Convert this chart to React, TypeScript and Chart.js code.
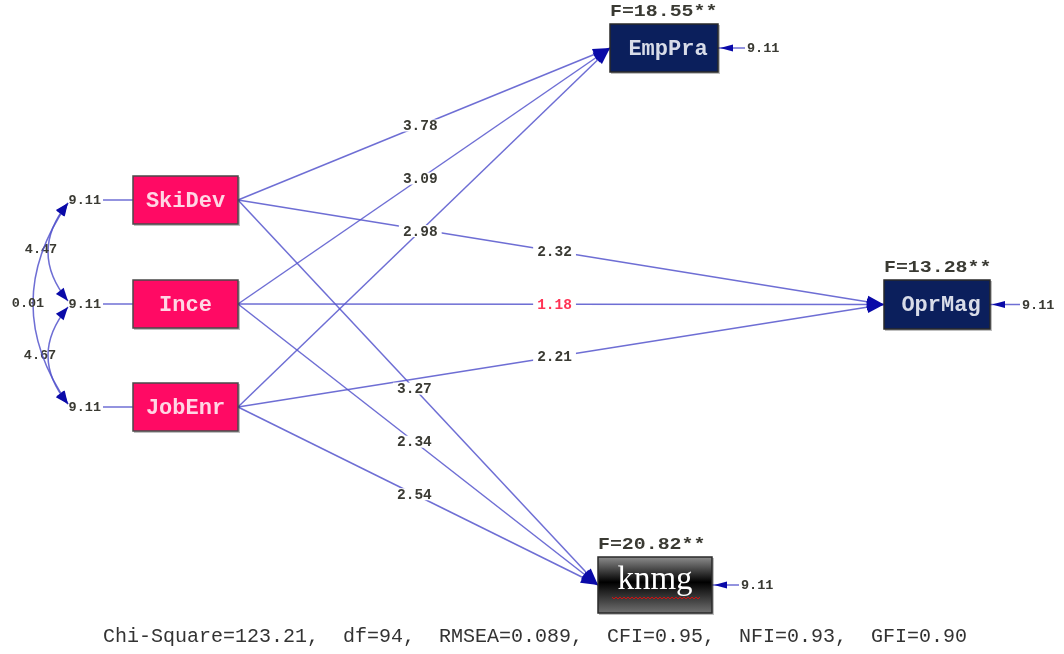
import React, { useEffect, useRef } from "react";
import { Chart, registerables } from "chart.js";
Chart.register(...registerables);

// ---------------- DATA ----------------
const exogenous = ["SkiDev", "Ince", "JobEnr"];
const endogenous = ["EmpPra", "OprMag", "knmg"];
const fValues = ["F=18.55**", "F=13.28**", "F=20.82**"];
const exoVariances = ["9.11", "9.11", "9.11"];
const errorVariances = ["9.11", "9.11", "9.11"];
const pathFrom = [0, 0, 0, 1, 1, 1, 2, 2, 2];
const pathTo = [0, 1, 2, 0, 1, 2, 0, 1, 2];
const pathCoefs = ["3.78", "2.32", "3.27", "3.09", "1.18", "2.34", "2.98", "2.21", "2.54"];
const pathSignificant = [true, true, true, true, false, true, true, true, true];
const covFrom = [0, 1, 0];
const covTo = [1, 2, 2];
const covValues = ["4.47", "4.67", "0.01"];
const fitStats = "Chi-Square=123.21,  df=94,  RMSEA=0.089,  CFI=0.95,  NFI=0.93,  GFI=0.90";

// ---------------- LAYOUT ----------------
const W = 1064;
const H = 654;
const exoX0 = 133;
const exoX1 = 238;
const exoHalfH = 24;
const exoCy = [200, 304, 407];
const endoBox = [
  { x0: 610, x1: 718, y0: 24, y1: 72 },
  { x0: 884, x1: 990, y0: 280, y1: 329 },
  { x0: 598, x1: 712, y0: 557, y1: 613 },
];
const errLen = [27, 30, 27];
const labelT = 0.49;
const covCtrlX = [28, 28, -2];
const covLabelPos = [
  { x: 41, y: 250 },
  { x: 40, y: 356 },
  { x: 28, y: 304 },
];

const LINE = "rgba(85,85,205,0.85)";
const HEAD = "#0a0aa8";
const TXT = "#3a3a33";
const MONO = "'Liberation Mono', 'Courier New', monospace";

const endoCy = (j: number) => (endoBox[j].y0 + endoBox[j].y1) / 2;

export default function App() {
  const ref = useRef<HTMLCanvasElement | null>(null);

  useEffect(() => {
    document.body.style.margin = "0";
    const canvas = ref.current;
    if (!canvas) return;

    const datasets = pathFrom.map((f, i) => ({
      label: exogenous[f] + "->" + endogenous[pathTo[i]],
      data: [
        { x: exoX1, y: exoCy[f] },
        { x: endoBox[pathTo[i]].x0, y: endoCy(pathTo[i]) },
      ],
      showLine: true,
      borderColor: LINE,
      borderWidth: 1.5,
      pointRadius: 0,
      fill: false,
    }));

    const diagram = {
      id: "diagram",
      afterDatasetsDraw(chart: any) {
        const ctx: CanvasRenderingContext2D = chart.ctx;
        const xs = chart.scales.x;
        const ys = chart.scales.y;
        const px = (v: number) => xs.getPixelForValue(v);
        const py = (v: number) => ys.getPixelForValue(v);

        const head = (tx: number, ty: number, fx: number, fy: number, L: number, hw: number) => {
          const dx = tx - fx, dy = ty - fy;
          const d = Math.hypot(dx, dy) || 1;
          const ux = dx / d, uy = dy / d;
          const bx = tx - ux * L, by = ty - uy * L;
          ctx.beginPath();
          ctx.moveTo(tx, ty);
          ctx.lineTo(bx - uy * hw, by + ux * hw);
          ctx.lineTo(bx + uy * hw, by - ux * hw);
          ctx.closePath();
          ctx.fillStyle = HEAD;
          ctx.fill();
        };
        const text = (s: string, x: number, y: number, font: string, color: string, align: CanvasTextAlign, sx = 1) => {
          ctx.save();
          ctx.font = font;
          ctx.fillStyle = color;
          ctx.textAlign = align;
          ctx.textBaseline = "middle";
          ctx.translate(x, y);
          ctx.scale(sx, 1);
          ctx.fillText(s, 0, 0);
          ctx.restore();
        };

        ctx.save();
        // path arrowheads and coefficient labels
        pathFrom.forEach((f, i) => {
          const j = pathTo[i];
          const x0 = px(exoX1), y0 = py(exoCy[f]);
          const x1 = px(endoBox[j].x0), y1 = py(endoCy(j));
          head(x1, y1, x0, y0, 17, 6);
        });
        pathFrom.forEach((f, i) => {
          const j = pathTo[i];
          const x0 = px(exoX1), y0 = py(exoCy[f]);
          const x1 = px(endoBox[j].x0), y1 = py(endoCy(j));
          const lx = x0 + (x1 - x0) * labelT;
          const ly = y0 + (y1 - y0) * labelT;
          ctx.font = "bold 14.5px " + MONO;
          const tw = ctx.measureText(pathCoefs[i]).width;
          ctx.fillStyle = "#ffffff";
          ctx.fillRect(lx - tw / 2 - 4, ly - 6, tw + 8, 12);
          text(pathCoefs[i], lx, ly + 1, "bold 14.5px " + MONO, pathSignificant[i] ? TXT : "#ff3355", "center");
        });

        // exogenous variance lines
        exogenous.forEach((_, k) => {
          const y = py(exoCy[k]);
          ctx.strokeStyle = LINE;
          ctx.lineWidth = 1.5;
          ctx.beginPath();
          ctx.moveTo(px(103), y);
          ctx.lineTo(px(exoX0), y);
          ctx.stroke();
          text(exoVariances[k], px(101), y + 1, "bold 13.5px " + MONO, TXT, "right");
        });

        // covariance arcs
        covFrom.forEach((a, k) => {
          const b = covTo[k];
          const sx = px(68), sy = py(exoCy[a] + 3);
          const ex = px(68), ey = py(exoCy[b] - 3);
          const cx = px(covCtrlX[k]), cy = (sy + ey) / 2;
          ctx.strokeStyle = LINE;
          ctx.lineWidth = 1.5;
          ctx.beginPath();
          ctx.moveTo(sx, sy);
          ctx.quadraticCurveTo(cx, cy, ex, ey);
          ctx.stroke();
          head(sx, sy, cx, cy, 13, 5);
          head(ex, ey, cx, cy, 13, 5);
          text(covValues[k], px(covLabelPos[k].x), py(covLabelPos[k].y), "bold 13.5px " + MONO, TXT, "center");
        });

        // exogenous boxes
        exogenous.forEach((name, k) => {
          const x0 = px(exoX0), x1 = px(exoX1);
          const y0 = py(exoCy[k] - exoHalfH), y1 = py(exoCy[k] + exoHalfH);
          ctx.fillStyle = "rgba(0,0,0,0.25)";
          ctx.fillRect(x0 + 1, y0 + 1, x1 - x0 + 1, y1 - y0 + 1);
          ctx.fillStyle = "#ff0a64";
          ctx.fillRect(x0, y0, x1 - x0, y1 - y0);
          ctx.strokeStyle = "#4a4a4a";
          ctx.lineWidth = 1.5;
          ctx.strokeRect(x0, y0, x1 - x0, y1 - y0);
          text(name, (x0 + x1) / 2, (y0 + y1) / 2 + 1, "bold 22px " + MONO, "#ffd6e4", "center");
        });

        // endogenous boxes
        endogenous.forEach((name, j) => {
          const b = endoBox[j];
          const x0 = px(b.x0), x1 = px(b.x1), y0 = py(b.y0), y1 = py(b.y1);
          const cyy = (y0 + y1) / 2;
          // error arrow
          ctx.strokeStyle = LINE;
          ctx.lineWidth = 1.5;
          ctx.beginPath();
          ctx.moveTo(x1, cyy);
          ctx.lineTo(x1 + errLen[j], cyy);
          ctx.stroke();
          head(x1 + 2, cyy, x1 + errLen[j], cyy, 13, 3.5);
          text(errorVariances[j], x1 + errLen[j] + 2, cyy + 1, "bold 13.5px " + MONO, TXT, "left");

          ctx.fillStyle = "rgba(0,0,0,0.25)";
          ctx.fillRect(x0 + 1, y0 + 1, x1 - x0 + 1, y1 - y0 + 1);
          if (j === 2) {
            const g = ctx.createLinearGradient(0, y0, 0, y1);
            g.addColorStop(0, "#8c8c8c");
            g.addColorStop(0.45, "#000000");
            g.addColorStop(1, "#707070");
            ctx.fillStyle = g;
          } else {
            ctx.fillStyle = "#0b1f5c";
          }
          ctx.fillRect(x0, y0, x1 - x0, y1 - y0);
          ctx.strokeStyle = "#2a2a2a";
          ctx.lineWidth = 1.5;
          ctx.strokeRect(x0, y0, x1 - x0, y1 - y0);
          if (j === 2) {
            text(name, (x0 + x1) / 2, cyy - 5, "33px 'Liberation Serif', 'Times New Roman', serif", "#ffffff", "center");
            // red wavy underline
            ctx.strokeStyle = "#d01010";
            ctx.lineWidth = 1;
            ctx.beginPath();
            const uy = cyy + 13;
            for (let x = x0 + 14, s = 0; x <= x1 - 12; x += 2, s++) {
              const yy = uy + (s % 2 === 0 ? -1 : 1);
              if (s === 0) ctx.moveTo(x, yy);
              else ctx.lineTo(x, yy);
            }
            ctx.stroke();
          } else {
            text(name, (x0 + x1) / 2 + 4, cyy + 1, "bold 22px " + MONO, "#d8dce8", "center");
          }
          text(fValues[j], x0, y0 - 12, "bold 17px " + MONO, TXT, "left", 1.17);
        });

        // fit statistics
        text(fitStats, px(W / 2 + 3), py(637), "20px " + MONO, "#333333", "center");
        ctx.restore();
      },
    };

    const chart = new Chart(canvas, {
      type: "scatter",
      data: { datasets },
      options: {
        animation: false,
        responsive: false,
        maintainAspectRatio: false,
        layout: { padding: 0 },
        plugins: { legend: { display: false }, tooltip: { enabled: false } },
        scales: {
          x: { type: "linear", min: 0, max: W, display: false },
          y: { type: "linear", min: 0, max: H, reverse: true, display: false },
        },
      },
      plugins: [diagram],
    } as any);
    return () => chart.destroy();
  }, []);

  return (
    <div style={{ position: "absolute", left: 0, top: 0, width: W, height: H, background: "#ffffff" }}>
      <canvas ref={ref} width={W} height={H} style={{ display: "block", width: W, height: H }} />
    </div>
  );
}
